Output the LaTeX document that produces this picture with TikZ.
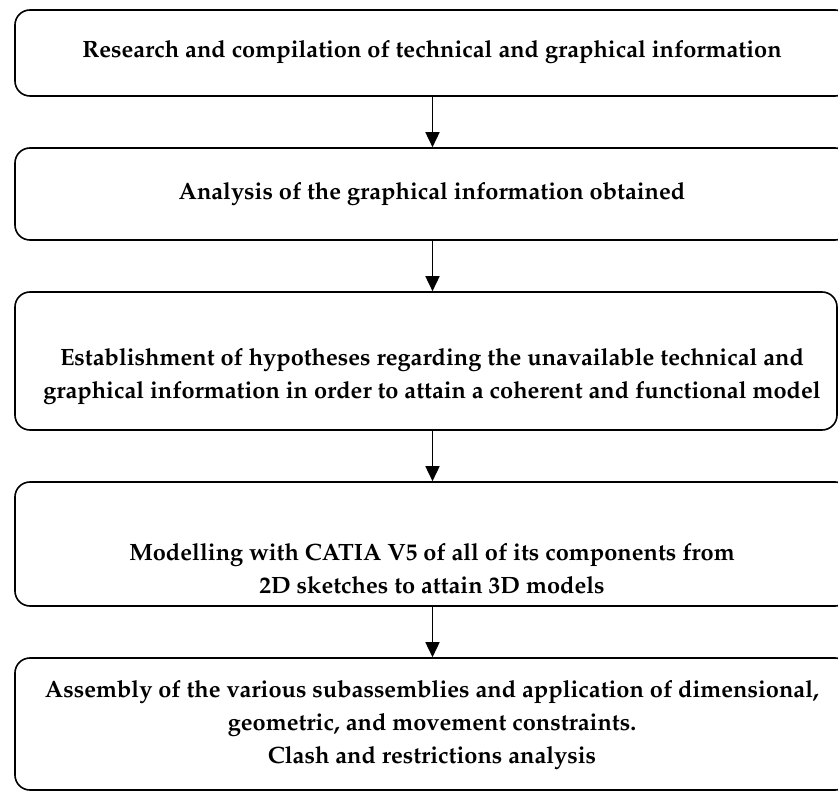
\documentclass[tikz,border=0pt]{standalone}
\usepackage[T1]{fontenc}
\usepackage{mathpazo}
\usetikzlibrary{arrows.meta}
\begin{document}
\begin{tikzpicture}[x=1pt,y=-1pt,
  box/.style={draw=black, line width=1.6pt, rounded corners=15pt, inner sep=0pt, rectangle},
  lbl/.style={align=center, font=\fontsize{23.6}{33}\selectfont\bfseries, inner sep=0pt},
  arr/.style={line width=1.6pt, -{Triangle[length=15pt,width=14pt]}}]
\useasboundingbox (0,0) rectangle (838,791);
\clip (0,0) rectangle (838,791);
% boxes
\node[box, minimum width=835pt, minimum height=86pt] (b1) at (432.5,53) {};
\node[box, minimum width=835pt, minimum height=92pt] (b2) at (432.5,194) {};
\node[box, minimum width=822pt, minimum height=138pt] (b3) at (426,361) {};
\node[box, minimum width=835pt, minimum height=124pt] (b4) at (432.5,544) {};
\node[box, minimum width=835pt, minimum height=132pt] (b5) at (432.5,724) {};
\coordinate (ax) at (432.5,0);
% texts
\node[lbl] (t1) at (432,52) {Research and compilation of technical and graphical information};
\node[lbl] (t2) at (432,194) {Analysis of the graphical information obtained};
\node[lbl] (t3) at (432,376) {Establishment of hypotheses regarding the unavailable technical and\\graphical information in order to attain a coherent and functional model};
\node[lbl] (t4) at (432,569) {Modelling with CATIA V5 of all of its components from\\2D sketches to attain 3D models};
\node[lbl] (t5) at (432,725) {Assembly of the various subassemblies and application of dimensional,\\geometric, and movement constraints.\\Clash and restrictions analysis};
% arrows
\draw[arr] (b1.south -| ax) -- (b2.north -| ax);
\draw[arr] (b2.south -| ax) -- (b3.north -| ax);
\draw[arr] (b3.south -| ax) -- (b4.north -| ax);
\draw[arr] (b4.south -| ax) -- (b5.north -| ax);
\end{tikzpicture}
\end{document}
